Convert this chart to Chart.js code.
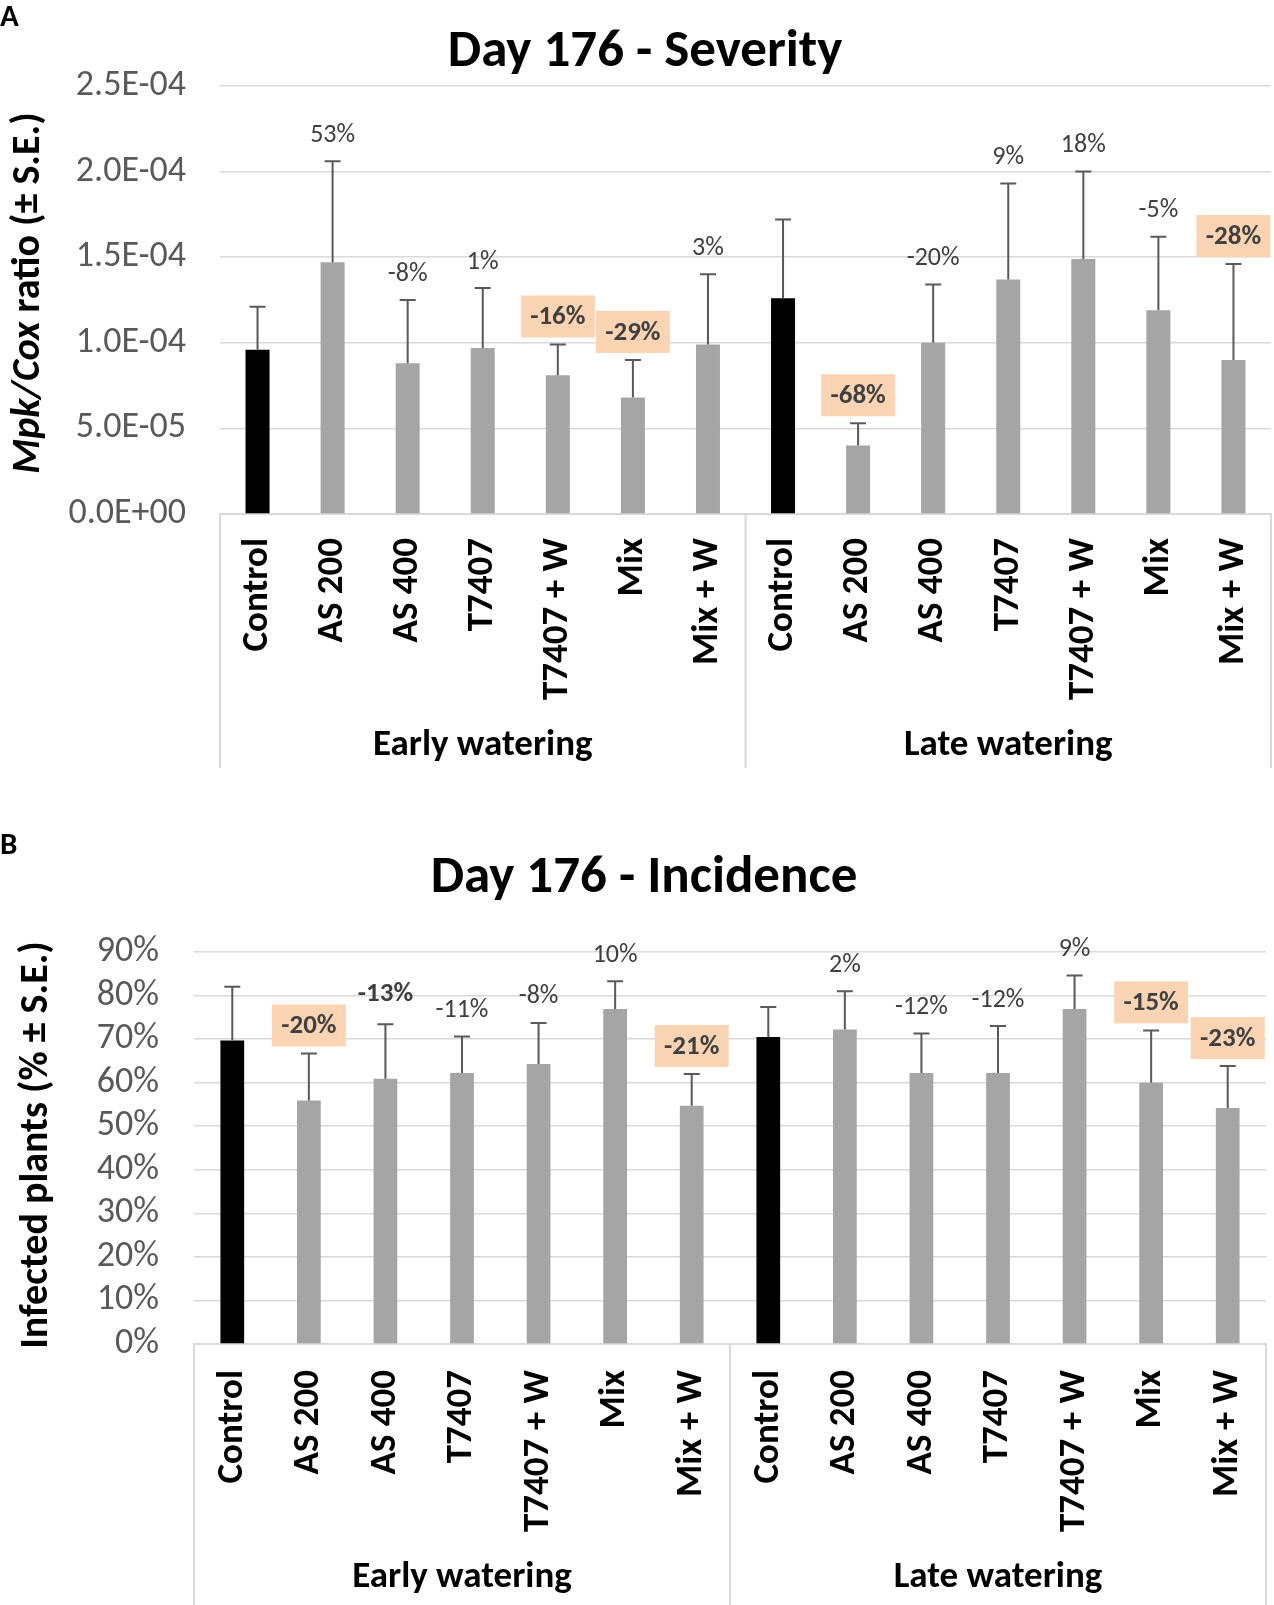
<!DOCTYPE html>
<html>
<head>
<meta charset="utf-8">
<title>Day 176 - Severity / Incidence</title>
<script src="https://cdn.jsdelivr.net/npm/chart.js@4.4.1/dist/chart.umd.min.js"></script>
<style>
  html, body { margin: 0; padding: 0; background: #fff; }
  .panel { position: absolute; left: 0; width: 1274px; }
  #panelA { top: 0; height: 800px; }
  #panelB { top: 800px; height: 805px; }
</style>
</head>
<body>
<div class="panel" id="panelA"><canvas id="chartA" width="1274" height="800"></canvas></div>
<div class="panel" id="panelB"><canvas id="chartB" width="1274" height="805"></canvas></div>
<script>
// ---- data -----------------------------------------------------------
const treatments = ['Control', 'AS 200', 'AS 400', 'T7407', 'T7407 + W', 'Mix', 'Mix + W'];
const categories = treatments.concat(treatments);
const groups = ['Early watering', 'Late watering'];

// A: Mpk/Cox ratio
const severity = [9.6e-5, 14.7e-5, 8.8e-5, 9.7e-5, 8.1e-5, 6.8e-5, 9.9e-5,
                  12.6e-5, 4.0e-5, 10.0e-5, 13.7e-5, 14.9e-5, 11.9e-5, 9.0e-5];
const severitySE = [2.5e-5, 5.9e-5, 3.7e-5, 3.5e-5, 1.8e-5, 2.2e-5, 4.1e-5,
                    4.6e-5, 1.3e-5, 3.4e-5, 5.6e-5, 5.1e-5, 4.3e-5, 5.6e-5];
const severityChange = ['', '53%', '-8%', '1%', '-16%', '-29%', '3%',
                        '', '-68%', '-20%', '9%', '18%', '-5%', '-28%'];
const severityMark = ['', '', '', '', 'box', 'box', '',
                      '', 'box', '', '', '', '', 'box'];
const severityTicks = ['0.0E+00', '5.0E-05', '1.0E-04', '1.5E-04', '2.0E-04', '2.5E-04'];

// B: infected plants (%)
const incidence = [69.7, 55.9, 60.9, 62.2, 64.3, 76.9, 54.7,
                   70.5, 72.2, 62.2, 62.2, 76.9, 60.0, 54.2];
const incidenceSE = [12.3, 10.8, 12.5, 8.4, 9.4, 6.4, 7.3,
                     6.9, 8.8, 9.1, 10.8, 7.7, 12.0, 9.6];
const incidenceChange = ['', '-20%', '-13%', '-11%', '-8%', '10%', '-21%',
                         '', '2%', '-12%', '-12%', '9%', '-15%', '-23%'];
const incidenceMark = ['', 'box', 'bold', '', '', '', 'box',
                       '', '', '', '', '', 'box', 'box'];
const incidenceTicks = ['0%', '10%', '20%', '30%', '40%', '50%', '60%', '70%', '80%', '90%'];

// ---- drawing --------------------------------------------------------
const FONT = 'Carlito, Lato, sans-serif';
const GRID = '#D9D9D9';

function decorPlugin(cfg) {
  return {
    id: 'decor',
    afterDatasetsDraw(chart) {
      const ctx = chart.ctx;
      const y = chart.scales.y;
      const bars = chart.getDatasetMeta(0).data;
      ctx.save();

      // upper error bars
      ctx.strokeStyle = '#595959';
      ctx.lineWidth = 2;
      bars.forEach((bar, i) => {
        const top = y.getPixelForValue(cfg.values[i] + cfg.se[i]);
        ctx.beginPath();
        ctx.moveTo(bar.x, bar.y);
        ctx.lineTo(bar.x, top);
        ctx.moveTo(bar.x - 8, top);
        ctx.lineTo(bar.x + 8, top);
        ctx.stroke();
      });

      // change labels
      ctx.textAlign = 'center';
      ctx.textBaseline = 'middle';
      bars.forEach((bar, i) => {
        const txt = cfg.change[i];
        if (!txt) return;
        const top = y.getPixelForValue(cfg.values[i] + cfg.se[i]);
        const mark = cfg.mark[i];
        if (mark === 'box') {
          const cy = top - 7 - 21;
          ctx.fillStyle = '#FBD4B4';
          ctx.fillRect(bar.x - 37, cy - 21, 74, 42);
          ctx.fillStyle = '#404040';
          ctx.font = 'bold 27px ' + FONT;
          ctx.fillText(txt, bar.x, cy + 1);
        } else {
          ctx.fillStyle = '#404040';
          ctx.font = (mark === 'bold' ? 'bold 27px ' : '26px ') + FONT;
          ctx.fillText(txt, bar.x, top - (mark === 'bold' ? 30 : 26));
        }
      });
      ctx.restore();
    },
    afterDraw(chart) {
      const ctx = chart.ctx;
      const area = chart.chartArea;
      const x = chart.scales.x;
      const mid = (x.getPixelForValue(6) + x.getPixelForValue(7)) / 2;
      ctx.save();

      // category frame
      ctx.strokeStyle = GRID;
      ctx.lineWidth = 2;
      ctx.beginPath();
      [area.left, mid, area.right].forEach(px => {
        ctx.moveTo(px, area.bottom);
        ctx.lineTo(px, cfg.frameBottom);
      });
      ctx.stroke();

      // group labels
      ctx.fillStyle = '#000';
      ctx.textAlign = 'center';
      ctx.textBaseline = 'middle';
      ctx.font = 'bold 37px ' + FONT;
      ctx.fillText(groups[0], (area.left + mid) / 2, cfg.groupY);
      ctx.fillText(groups[1], (mid + area.right) / 2, cfg.groupY);

      // title
      ctx.font = 'bold 53px ' + FONT;
      ctx.fillText(cfg.title, cfg.titleX, cfg.titleY);

      // panel letter
      ctx.textAlign = 'left';
      ctx.textBaseline = 'alphabetic';
      ctx.font = 'bold 31px ' + FONT;
      ctx.fillText(cfg.letter, 0, cfg.letterY);

      // y axis title (mixed italic / upright parts)
      ctx.translate(cfg.yTitleX, cfg.yTitleY);
      ctx.rotate(-Math.PI / 2);
      ctx.textBaseline = 'middle';
      let total = 0;
      cfg.yTitle.forEach(p => {
        ctx.font = (p.italic ? 'italic ' : '') + 'bold 40px ' + FONT;
        total += ctx.measureText(p.text).width;
      });
      let pos = -total / 2;
      cfg.yTitle.forEach(p => {
        ctx.font = (p.italic ? 'italic ' : '') + 'bold 40px ' + FONT;
        ctx.fillText(p.text, pos, 0);
        pos += ctx.measureText(p.text).width;
      });
      ctx.restore();
    }
  };
}

function makeChart(id, cfg) {
  return new Chart(document.getElementById(id), {
    type: 'bar',
    data: {
      labels: categories,
      datasets: [{
        data: cfg.values,
        backgroundColor: categories.map(c => c === 'Control' ? '#000000' : '#A5A5A5'),
        borderWidth: 0,
        barPercentage: cfg.barPct,
        categoryPercentage: 1.0
      }]
    },
    options: {
      responsive: false,
      animation: false,
      events: [],
      layout: { padding: { top: cfg.plotTop, right: cfg.padRight, left: 0, bottom: 0 } },
      plugins: {
        legend: { display: false },
        tooltip: { enabled: false },
        title: { display: false }
      },
      scales: {
        x: {
          grid: { display: false, drawTicks: false },
          border: { display: true, color: GRID, width: 2 },
          ticks: {
            color: '#000',
            font: { family: FONT, size: 37, weight: 'bold' },
            minRotation: 90,
            maxRotation: 90,
            autoSkip: false,
            padding: cfg.labelPad
          },
          afterFit: s => {
            s.height = cfg.xHeight;
            s.paddingLeft = 0;
            s.paddingRight = 0;
          }
        },
        y: {
          min: 0,
          max: cfg.max,
          border: { display: false },
          grid: { color: GRID, lineWidth: 1.5, drawTicks: false },
          ticks: {
            stepSize: cfg.step,
            autoSkip: false,
            padding: cfg.tickPad,
            color: '#595959',
            font: { family: FONT, size: 36 },
            callback: (v, i) => cfg.tickLabels[i]
          },
          afterFit: s => { s.width = cfg.plotLeft; }
        }
      }
    },
    plugins: [decorPlugin(cfg)]
  });
}

makeChart('chartA', {
  values: severity, se: severitySE, change: severityChange, mark: severityMark,
  tickLabels: severityTicks, max: 2.5e-4, step: 5e-5,
  plotLeft: 220, plotTop: 86, padRight: 3, xHeight: 286, tickPad: 34, labelPad: 24,
  barPct: 0.32, frameBottom: 768, groupY: 746,
  title: 'Day 176 - Severity', titleX: 645, titleY: 53, letter: 'A', letterY: 26,
  yTitleX: 29, yTitleY: 293,
  yTitle: [{ text: 'Mpk/Cox', italic: true }, { text: ' ratio (\u00B1 S.E.)', italic: false }]
});

makeChart('chartB', {
  values: incidence, se: incidenceSE, change: incidenceChange, mark: incidenceMark,
  tickLabels: incidenceTicks, max: 90, step: 10,
  plotLeft: 194, plotTop: 152, padRight: 8, xHeight: 261, tickPad: 35, labelPad: 26,
  barPct: 0.31, frameBottom: 805, groupY: 778,
  title: 'Day 176 - Incidence', titleX: 644, titleY: 79, letter: 'B', letterY: 54,
  yTitleX: 37, yTitleY: 345,
  yTitle: [{ text: 'Infected plants (% \u00B1 S.E.)', italic: false }]
});
</script>
</body>
</html>
